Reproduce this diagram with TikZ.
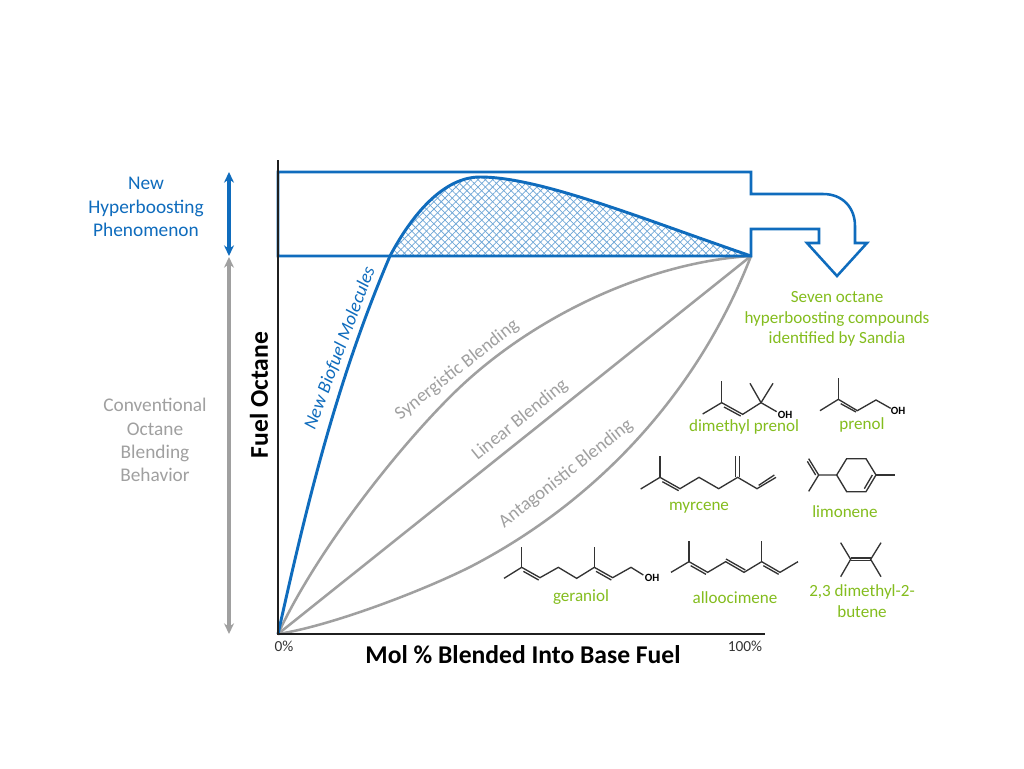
\documentclass[tikz,border=0pt]{standalone}
\usepackage{fontspec}
\setmainfont{Carlito}
\usetikzlibrary{patterns.meta,arrows.meta}
\definecolor{hblue}{HTML}{0F6CBD}
\definecolor{hgrey}{HTML}{A0A0A0}
\definecolor{hgreen}{HTML}{84BD1E}
\definecolor{bond}{HTML}{333333}
\tikzset{
  lab/.style={inner sep=0pt,align=center,font=\fontsize{14.5pt}{17.4pt}\selectfont},
  rottext/.style={inner sep=0pt,font=\fontsize{14pt}{16pt}\selectfont,text=hgrey},
  cname/.style={inner sep=0pt,align=center,text=hgreen,font=\fontsize{12.8pt}{15.5pt}\selectfont},
  curveg/.style={draw=hgrey,line width=1.9pt},
  bonds/.style={draw=bond,line width=1pt},
  ohlabel/.style={inner sep=0pt,font=\bfseries\fontsize{8.3pt}{9pt}\selectfont,text=black},
  axislab/.style={inner sep=0pt,font=\bfseries\fontsize{19.2pt}{21pt}\selectfont},
  ticklab/.style={inner sep=0pt,font=\fontsize{11.5pt}{13pt}\selectfont,text=bond},
  rangearrow/.style={line width=2.6pt,{Stealth[length=8pt,width=7.5pt]}-{Stealth[length=8pt,width=7.5pt]}},
  zoomA/.style={shift={(620,360)},x=.25pt,y=-.25pt},
  zoomB/.style={shift={(490,530)},x=.25pt,y=-.25pt}
}
\begin{document}
\begin{tikzpicture}[x=.75pt,y=-.75pt]
\useasboundingbox (0,0) rectangle (1024,768);
\fill[white] (0,0) rectangle (1024,768);
\coordinate (O) at (278,634);
\coordinate (E) at (751,256);
\coordinate (Ytop) at (278,160);
\coordinate (Xend) at (765,634);
\coordinate (Cross) at (390,256);
\coordinate (Peak) at (480,177);
\coordinate (Sm) at (457,390);
\coordinate (Am) at (470,567);
% hatch
\fill[pattern={Lines[angle=45,distance=3.9pt,line width=.55pt]},pattern color=hblue!60]
  (Cross) .. controls (408,222) and (440,177) .. (Peak) .. controls (540,177) and (640,218) .. (E) -- cycle;
\fill[pattern={Lines[angle=135,distance=3.9pt,line width=.55pt]},pattern color=hblue!60]
  (Cross) .. controls (408,222) and (440,177) .. (Peak) .. controls (540,177) and (640,218) .. (E) -- cycle;
% grey curves
\draw[curveg] (O) .. controls (318,548) and (402,443) .. (Sm) .. controls (535,315) and (650,262) .. (E);
\draw[curveg] (O) -- (E);
\draw[curveg] (O) .. controls (330,626) and (420,592) .. (Am) .. controls (590,505) and (695,400) .. (E);
% blue
\draw[hblue,line width=1.9pt,line join=miter] (278,172) -- (751,172) -- (751,194) -- (823,194)
  .. controls (843,194) and (855,208) .. (855,226) -- (855,243) -- (867,243) -- (837,276) -- (807,243)
  -- (819,243) -- (819,229) -- (751,229) -- (E) -- (278,256) -- cycle;
\draw[hblue,line width=2.2pt] (O) .. controls (306,508) and (336,382) .. (Cross) .. controls (408,222) and (440,177) .. (Peak) .. controls (540,177) and (640,218) .. (E);
% axes
\draw[bond!60!black,line width=1.9pt] (Ytop) -- (O) -- (Xend);
% range arrows
\coordinate (Ba) at (229,172); \coordinate (Bb) at (229,256);
\coordinate (Ga) at (229,257); \coordinate (Gb) at (229,634);
\draw[hblue,rangearrow] (Ba) -- (Bb);
\draw[hgrey,rangearrow] (Ga) -- (Gb);
% labels
\node[lab,text=hblue] (lnew) at (146,207) {New\\Hyperboosting\\Phenomenon};
\node[lab,text=hgrey] (lconv) at (155,440) {Conventional\\Octane\\Blending\\Behavior};
\node[axislab,rotate=90] (ly) at (259,395) {Fuel Octane};
\node[axislab] (lx) at (523,655) {Mol \% Blended Into Base Fuel};
\node[ticklab] (l0) at (284,646) {0\%};
\node[ticklab] (l100) at (745,646) {100\%};
\node[rottext,text=hblue,rotate=69.5,font=\itshape\fontsize{14pt}{16pt}\selectfont] (lbio) at (340,348) {New Biofuel Molecules};
\node[rottext,rotate=38] (lsyn) at (457,370) {Synergistic Blending};
\node[rottext,rotate=39] (llin) at (520,420) {Linear Blending};
\node[rottext,rotate=38] (lant) at (566,474) {Antagonistic Blending};
\node[cname] (lseven) at (837,319) {Seven octane\\hyperboosting compounds\\identified by Sandia};
\node[cname] (ldmp) at (744,427) {dimethyl prenol};
\node[cname] (lpre) at (862,425) {prenol};
\node[cname] (lmyr) at (699,508) {myrcene};
\node[cname] (llim) at (845,512) {limonene};
\node[cname] (lger) at (581,597) {geraniol};
\node[cname] (lallo) at (735,598) {alloocimene};
\node[cname] (lbut) at (862,601) {2,3 dimethyl-2-\\butene};
% molecules
\begin{scope}[zoomA]
  \draw[bonds] (248,162) -- (305,128) -- (368,163) -- (423,128) -- (470,155);
  \draw[bonds] (305,128) -- (305,62);
  \draw[bonds] (312,141) -- (362,168);
  \draw[bonds] (423,128) -- (390,70) (423,128) -- (459,70);
  \draw[bonds] (600,152) -- (655,118) -- (712,152) -- (768,120) -- (812,145);
  \draw[bonds] (655,118) -- (655,55);
  \draw[bonds] (662,131) -- (708,156);
  \draw[bonds] (62,387) -- (120,352) -- (180,386) -- (237,352) -- (296,386) -- (353,352) -- (411,386) -- (468,352);
  \draw[bonds] (120,352) -- (120,287);
  \draw[bonds] (127,365) -- (176,392);
  \draw[bonds] (347,352) -- (347,287) (359,352) -- (359,287);
  \draw[bonds] (416,376) -- (463,345);
  \draw[bonds] (650,345) -- (680,296) -- (738,296) -- (768,345) -- (738,395) -- (680,395) -- cycle;
  \draw[bonds] (733,386) -- (757,345);
  \draw[bonds] (768,345) -- (824,345);
  \draw[bonds] (650,345) -- (596,345) -- (566,394);
  \draw[bonds] (596,345) -- (566,296) (587,345) -- (562,304);
\end{scope}
\node[ohlabel] (oh1) at (785,415) {OH};
\node[ohlabel] (oh2) at (898,411) {OH};
\begin{scope}[zoomB]
  \draw[bonds] (42,145) -- (95,112) -- (150,143) -- (205,112) -- (260,145) -- (313,112) -- (368,143) -- (423,112) -- (460,135);
  \draw[bonds] (95,112) -- (95,50) (313,112) -- (313,50);
  \draw[bonds] (100,124) -- (146,150) (318,124) -- (364,150);
  \draw[bonds] (543,127) -- (597,95) -- (653,127) -- (707,95) -- (762,127) -- (815,95) -- (870,127) -- (924,95);
  \draw[bonds] (597,95) -- (597,33) (815,95) -- (815,33);
  \draw[bonds] (602,107) -- (648,133) (708,87) -- (766,120) (820,107) -- (866,133);
  \draw[bonds] (1052,38) -- (1082,88) -- (1052,140);
  \draw[bonds] (1173,38) -- (1142,88) -- (1173,140);
  \draw[bonds] (1082,84) -- (1142,84) (1082,92) -- (1142,92);
\end{scope}
\node[ohlabel] (oh3) at (652,578) {OH};
\end{tikzpicture}
\end{document}
